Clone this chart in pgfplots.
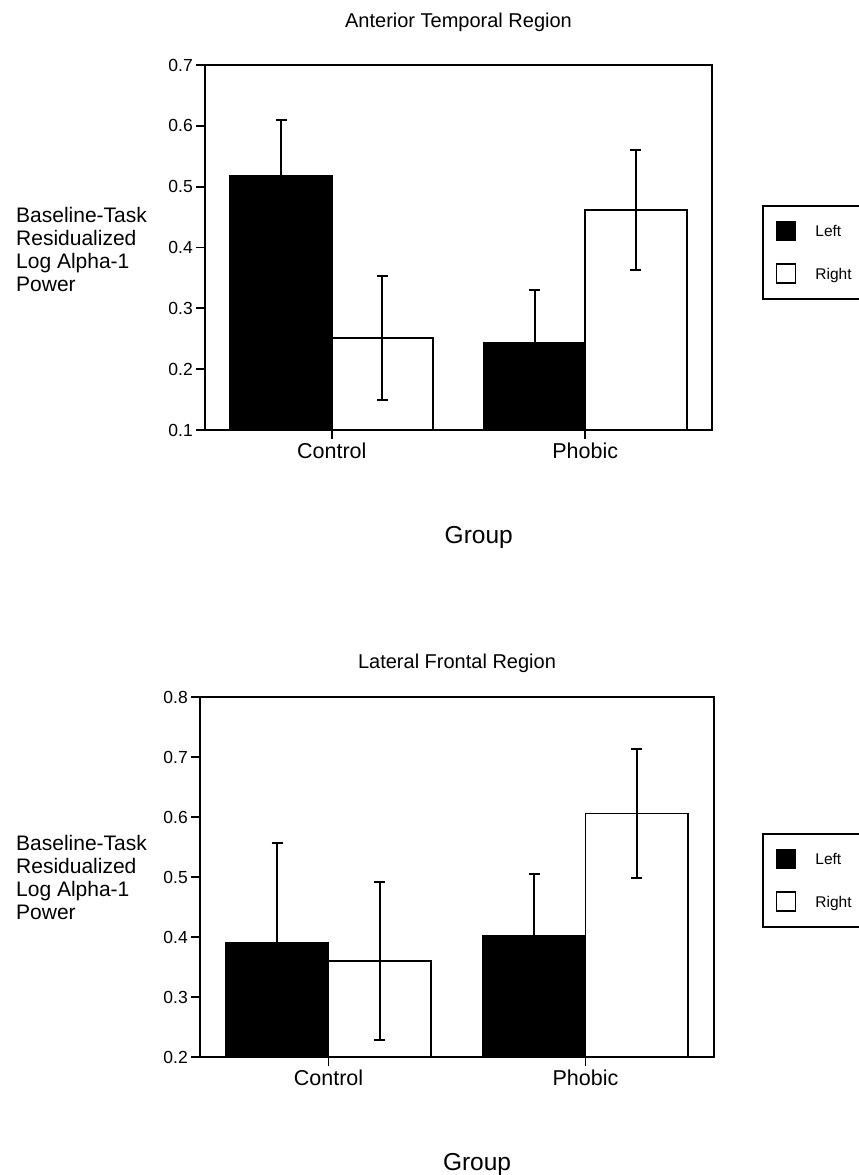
\documentclass[border=0pt]{standalone}
\usepackage{pgfplots}
\pgfplotsset{compat=1.18}
\usepackage{fontspec}
\setmainfont{Liberation Sans}

\pgfplotsset{
  panel/.style={
    scale only axis,
    anchor=south west,
    xmin=-0.5, xmax=1.5,
    xtick={0,1},
    xticklabels={Control,Phobic},
    tick align=outside,
    xtick pos=bottom,
    ytick pos=left,
    major tick length=9pt,
    every tick/.style={black, line width=1.8pt},
    axis line style={line width=2pt},
    /pgf/number format/assume math mode=true,
    yticklabel style={font=\fontsize{17.5}{20}\selectfont, inner sep=0pt, xshift=-3pt, /pgf/number format/.cd, fixed, fixed zerofill, precision=1},
    xticklabel style={font=\fontsize{21.5}{24}\selectfont, inner sep=0pt, yshift=-4pt},
    title style={font=\fontsize{20}{24}\selectfont, at={(0.5,1)}, anchor=base, inner sep=0pt},
    ylabel style={font=\fontsize{21}{23}\selectfont, rotate=-90, anchor=west, align=left, inner sep=0pt},
    xlabel style={font=\fontsize{24.5}{28}\selectfont, anchor=base, inner sep=0pt},
    legend style={draw=black, line width=1.6pt, anchor=north west,
      font=\fontsize{15.5}{18}\selectfont,
      inner xsep=13pt, inner ysep=15pt, row sep=22pt,
      nodes={inner sep=0pt, text height=11pt, text depth=0pt},
      /tikz/every odd column/.append style={column sep=19pt}},
    legend cell align=left,
    legend image code/.code={\draw[#1, line width=1.6pt] (0pt,-9.5pt) rectangle (19pt,9.5pt);},
  },
  errs/.style={
    error bars/.cd,
      y dir=both, y explicit,
      error bar style={line width=2pt, black},
      error mark options={rotate=90, mark size=5.5pt, line width=2pt, black},
  },
  leftbar/.style={ybar, bar width=0.4, bar shift=0, fill=black, draw=black, line width=1.8pt, forget plot, errs},
  rightbar/.style={ybar, bar width=0.4, bar shift=0, fill=white, draw=black, line width=1.8pt, forget plot, errs},
}

\begin{document}
\begin{tikzpicture}
\path[use as bounding box] (0pt,0pt) rectangle (859pt,-1175pt);

% ---------- Top panel ----------
\begin{axis}[panel,
  at={(205pt,-430pt)}, width=507pt, height=365pt,
  ymin=0.1, ymax=0.7, ytick={0.1,0.2,...,0.7},
  title={Anterior Temporal Region},
  title style={yshift=32pt},
  ylabel={Baseline-Task\\Residualized\\Log Alpha-1\\Power},
  ylabel style={at={(axis description cs:-0.3728,0.4934)}},
  xlabel={Group},
  xlabel style={at={(axis description cs:0.540,0)}, yshift=-113pt},
  legend style={at={(axis description cs:1.0986,0.6164)}},
]
\addlegendimage{fill=black, draw=black}
\addlegendentry{Left}
\addlegendimage{fill=white, draw=black}
\addlegendentry{Right}
% Left hemisphere (black), bars centred at group position - 0.2
\addplot[leftbar] coordinates {(-0.2,0.517) +- (0,0.093) (0.8,0.243) +- (0,0.087)};
% Right hemisphere (white), bars centred at group position + 0.2
\addplot[rightbar] coordinates {(0.2,0.251) +- (0,0.102) (1.2,0.462) +- (0,0.099)};
\end{axis}

% ---------- Bottom panel ----------
\begin{axis}[panel,
  at={(200pt,-1057pt)}, width=514pt, height=360pt,
  ymin=0.2, ymax=0.8, ytick={0.2,0.3,...,0.8},
  title={Lateral Frontal Region},
  title style={yshift=23pt},
  ylabel={Baseline-Task\\Residualized\\Log Alpha-1\\Power},
  ylabel style={at={(axis description cs:-0.358,0.4984)}},
  xlabel={Group},
  xlabel style={at={(axis description cs:0.539,0)}, yshift=-113pt},
  legend style={at={(axis description cs:1.0934,0.6222)}},
]
\addlegendimage{fill=black, draw=black}
\addlegendentry{Left}
\addlegendimage{fill=white, draw=black}
\addlegendentry{Right}
\addplot[leftbar] coordinates {(-0.2,0.391) +- (0,0.165) (0.8,0.402) +- (0,0.103)};
\addplot[rightbar] coordinates {(0.2,0.360) +- (0,0.131) (1.2,0.606) +- (0,0.107)};
\end{axis}
\end{tikzpicture}
\end{document}
